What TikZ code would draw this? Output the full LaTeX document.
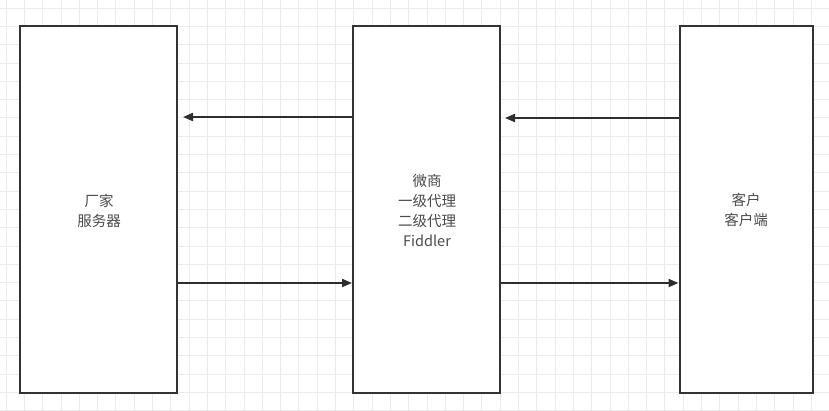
\documentclass[tikz,border=0pt]{standalone}
\usepackage{fontspec}
\setmainfont{Noto Sans CJK SC}
\usetikzlibrary{arrows.meta}
\definecolor{gridc}{HTML}{EBEBEB}
\definecolor{boxc}{HTML}{333333}
\definecolor{txtc}{HTML}{4A4A4A}
\begin{document}
\begin{tikzpicture}[x=1pt,y=-1pt,
  box/.style={draw=boxc,line width=2pt,fill=white,text=txtc,align=center,
    font=\fontsize{14.5}{20}\selectfont,inner sep=0pt},
  conn/.style={draw=boxc!90!black,line width=2pt,-{Triangle[length=10pt,width=8pt]}}]
\useasboundingbox (0,0) rectangle (829,410);
\fill[white] (0,0) rectangle (829,410);
\foreach \i in {0,...,45} {\draw[gridc,line width=0.8pt] (6+\i*18.3,0) -- (6+\i*18.3,410);}
\foreach \j in {0,...,22} {\draw[gridc,line width=0.8pt] (0,8+\j*18.3) -- (829,8+\j*18.3);}
\node[box,minimum width=157pt,minimum height=367pt] (L) at (98.5,209.5) {};
\node[box,minimum width=147pt,minimum height=367pt] (M) at (426.5,209.5) {};
\node[box,minimum width=133pt,minimum height=367pt] (R) at (746,209.5) {};
\node[box,draw=none,fill=none] (Lt) at (99,211) {厂家\\服务器};
\node[box,draw=none,fill=none] (Mt) at (427,210) {微商\\一级代理\\二级代理\\Fiddler};
\node[box,draw=none,fill=none] (Rt) at (746,210) {客户\\客户端};
\coordinate (a1) at (183,117);
\coordinate (a2) at (505,118);
\draw[conn] (M.west |- a1) -- (a1);
\draw[conn] (R.west |- a2) -- (a2);
\draw[conn] (L.east |- 0,283) -- (M.west |- 0,283);
\draw[conn] (M.east |- 0,283) -- (R.west |- 0,283);
\end{tikzpicture}
\end{document}
